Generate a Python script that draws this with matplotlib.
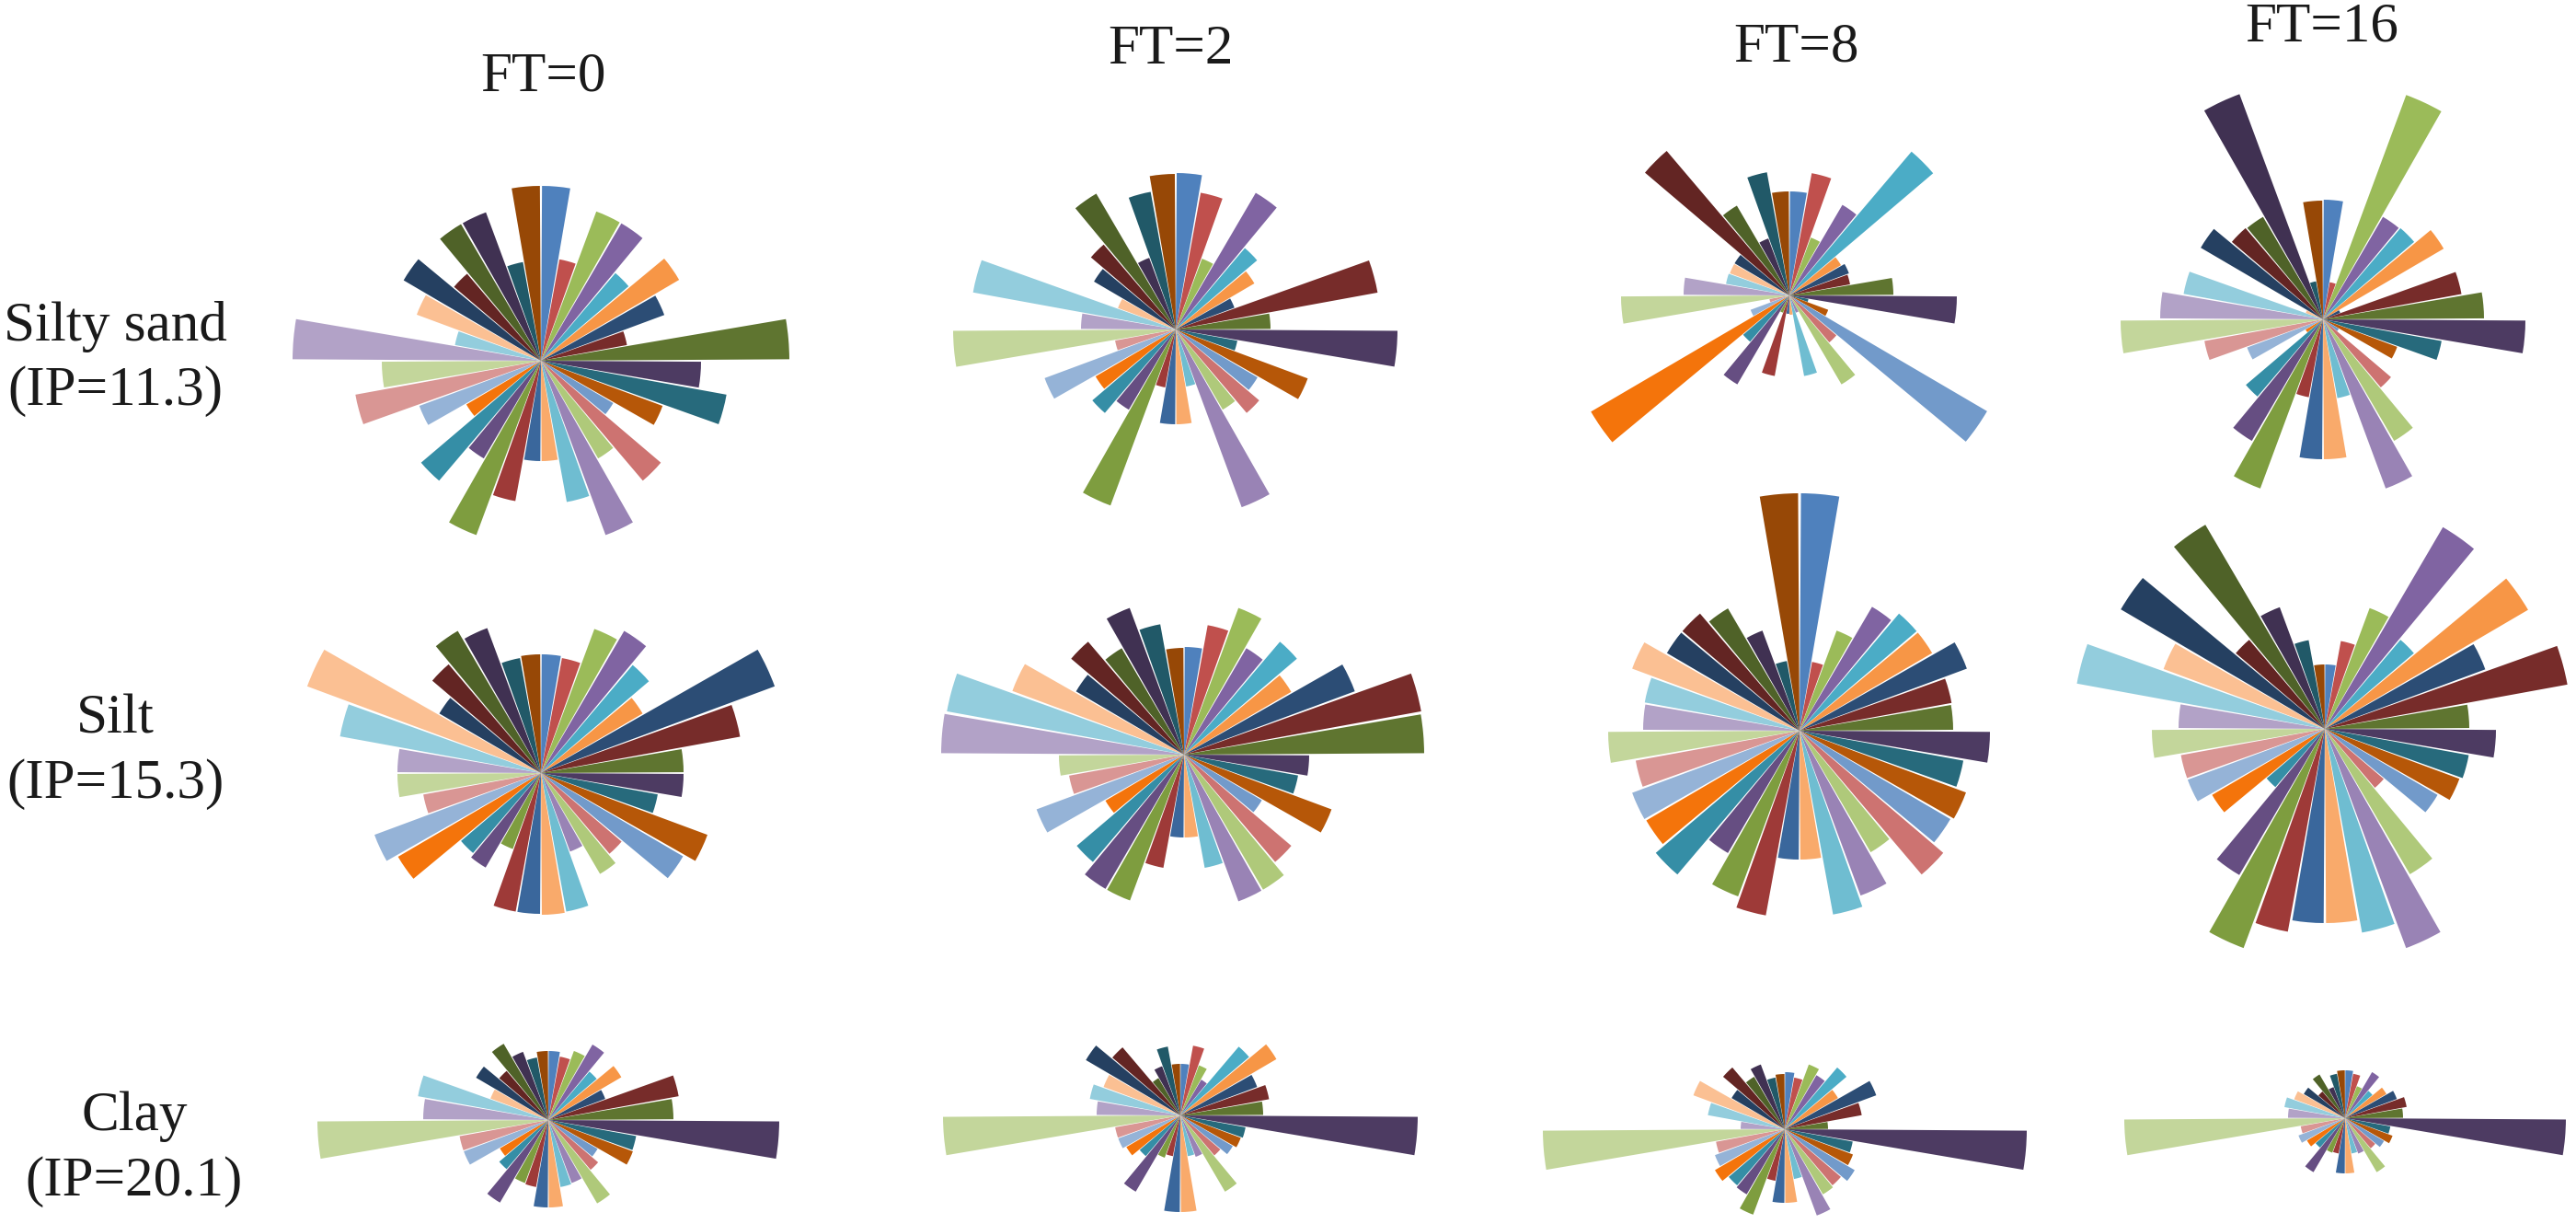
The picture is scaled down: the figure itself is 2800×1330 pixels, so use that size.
#!/usr/bin/env python3
# -*- coding: utf-8 -*-
import numpy as np
import matplotlib
matplotlib.use('Agg')
import matplotlib.pyplot as plt

plt.rcParams['font.family'] = ['Liberation Serif', 'DejaVu Serif']

# ============================================================
# data: 36 sectors of 10 degrees, clockwise from north
# ============================================================
silty_ft0 = [190, 112, 173, 173, 125, 174, 143, 95, 270, 174, 205, 141,
             91, 171, 123, 202, 156, 109, 109, 155, 202, 123, 171, 94,
             141, 205, 173, 270, 95, 144, 173, 124, 172, 172, 109, 190]
silty_ft2 = [170, 151, 82, 172, 116, 99, 68, 223, 103, 241, 68, 153,
             103, 119, 101, 206, 63, 103, 103, 64, 204, 101, 119, 101,
             152, 67, 242, 103, 224, 67, 103, 121, 171, 83, 152, 169]
silty_ft8 = [113, 135, 67, 114, 205, 65, 69, 67, 113, 182, 21, 45,
             249, 67, 112, 20, 89, 21, 20, 89, 20, 112, 66, 250,
             45, 22, 183, 115, 70, 69, 69, 206, 113, 66, 136, 113]
silty_ft16 = [130, 41, 260, 129, 130, 152, 20, 153, 175, 220, 131, 86,
              20, 97, 153, 196, 87, 152, 152, 86, 196, 153, 110, 22,
              88, 131, 220, 177, 154, 20, 154, 130, 129, 261, 42, 129]

silt_ft0 = [129, 127, 167, 179, 154, 128, 271, 220, 155, 155, 129, 193,
            179, 115, 127, 91, 153, 154, 153, 153, 88, 119, 114, 180,
            193, 130, 156, 156, 222, 271, 128, 155, 179, 168, 127, 129]
silt_ft2 = [117, 143, 170, 134, 161, 135, 198, 262, 261, 136, 126, 171,
            98, 153, 170, 170, 125, 90, 90, 125, 169, 169, 153, 99,
            171, 127, 136, 264, 262, 199, 136, 161, 134, 170, 144, 116]
silt_ft8 = [258, 76, 116, 156, 167, 167, 194, 168, 167, 207, 181, 193,
            190, 205, 153, 191, 203, 140, 140, 204, 192, 154, 205, 193,
            194, 181, 208, 170, 171, 194, 167, 167, 154, 116, 77, 258]
silt_ft16 = [70, 97, 140, 254, 127, 256, 186, 268, 157, 186, 159, 156,
             142, 84, 183, 254, 225, 211, 211, 224, 254, 184, 83, 142,
             159, 159, 188, 159, 274, 187, 257, 127, 257, 141, 98, 70]

clay_ft0 = [75, 70, 80, 95, 69, 92, 66, 144, 136, 251, 97, 98,
            62, 71, 105, 73, 74, 95, 95, 74, 73, 104, 70, 61,
            98, 98, 251, 136, 144, 67, 91, 70, 96, 79, 69, 75]
clay_ft2 = [56, 77, 58, 45, 98, 121, 89, 98, 90, 258, 72, 70,
            66, 57, 96, 48, 45, 105, 105, 45, 49, 96, 58, 68,
            72, 72, 258, 91, 100, 89, 119, 97, 47, 57, 76, 56]
clay_ft8 = [62, 57, 75, 68, 88, 67, 106, 85, 47, 263, 75, 79,
            88, 80, 82, 100, 55, 80, 80, 57, 99, 82, 80, 88,
            81, 76, 263, 48, 85, 106, 67, 88, 66, 75, 57, 60]
clay_ft16 = [52, 49, 37, 58, 39, 52, 60, 68, 63, 240, 50, 55,
             49, 43, 68, 41, 39, 60, 60, 39, 40, 68, 42, 48,
             54, 49, 240, 62, 67, 59, 52, 38, 55, 36, 49, 52]

col_labels = ['FT=0', 'FT=2', 'FT=8', 'FT=16']
row_labels = ['Silty sand\n(IP=11.3)', 'Silt\n(IP=15.3)', 'Clay\n(IP=20.1)']

# ============================================================
# style and layout (reference pixels)
# ============================================================
sector_colors = ['#4F81BD', '#C0504D', '#9BBB59', '#8064A2', '#4BACC6', '#F79646',
                 '#2C4D75', '#772C2A', '#5F7530', '#4D3B62', '#276A7C', '#B65708',
                 '#729ACA', '#CD7371', '#AFC97A', '#9983B5', '#6FBDD1', '#F9AA6B',
                 '#3A679C', '#9E3A38', '#7E9D3F', '#664E82', '#358EA6', '#F4740B',
                 '#95B3D7', '#D99694', '#C3D69B', '#B2A2C7', '#93CDDD', '#FBC093',
                 '#254061', '#632523', '#4F6228', '#403152', '#215968', '#974806']

W, H = 2800, 1330
R_MAX = 300
SECTOR_WIDTH = 9.3  # degrees, the rest is the white gap
FONT_SIZE = 44

panels = [silty_ft0, silty_ft2, silty_ft8, silty_ft16,
          silt_ft0, silt_ft2, silt_ft8, silt_ft16,
          clay_ft0, clay_ft2, clay_ft8, clay_ft16]
centers = [(588, 392), (1278, 358), (1945, 321), (2525, 347),
           (588, 840), (1287, 820), (1956, 794), (2527, 792),
           (596, 1217), (1283, 1212), (1940, 1227), (2549, 1215)]
col_xy = [(591, 84), (1272, 54), (1952, 52), (2524, 30)]
row_xy = [(125, 390), (125, 817), (146, 1249)]

fig = plt.figure(figsize=(W / 100, H / 100), dpi=100, facecolor='white')

theta = np.deg2rad(np.arange(36) * 10 + 5)
for values, (cx, cy) in zip(panels, centers):
    ax = fig.add_axes([(cx - R_MAX) / W, 1 - (cy + R_MAX) / H,
                       2 * R_MAX / W, 2 * R_MAX / H], projection='polar')
    ax.set_theta_zero_location('N')
    ax.set_theta_direction(-1)
    ax.bar(theta, values, width=np.deg2rad(SECTOR_WIDTH), color=sector_colors, linewidth=0)
    ax.set_ylim(0, R_MAX)
    ax.axis('off')

for label, (x, y) in zip(col_labels, col_xy):
    fig.text(x / W, 1 - y / H, label, ha='center', va='center',
             fontsize=FONT_SIZE, color='#1a1a1a')
for label, (x, y) in zip(row_labels, row_xy):
    fig.text(x / W, 1 - y / H, label, ha='center', va='center',
             fontsize=FONT_SIZE, color='#1a1a1a', linespacing=1.35)

fig.savefig('out.png', dpi=100, facecolor='white')
plt.close(fig)
